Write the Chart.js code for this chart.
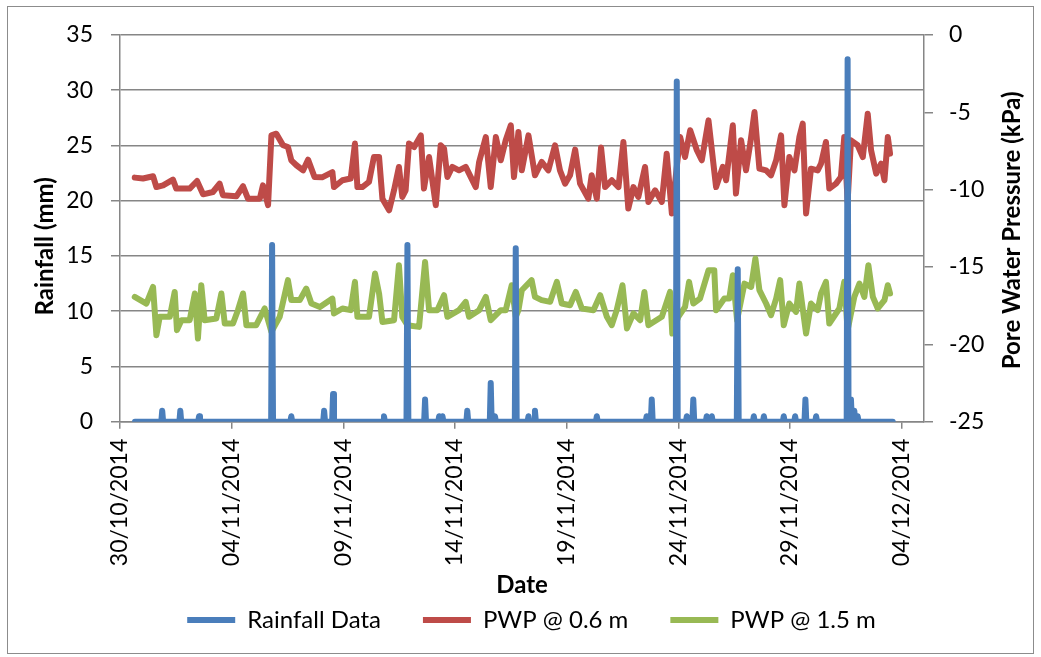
<!DOCTYPE html>
<html>
<head>
<meta charset="utf-8">
<script src="https://cdn.jsdelivr.net/npm/chart.js@4.4.1/dist/chart.umd.min.js"></script>
<style>
  html, body { margin: 0; padding: 0; background: #fff; }
  #wrap { position: relative; width: 1041px; height: 657px; }
  #frame { position: absolute; left: 7px; top: 6px; width: 1025px; height: 646px; border: 1px solid #8c8c8c; pointer-events: none; }
</style>
</head>
<body>
<div id="wrap">
  <canvas id="chart" width="1041" height="657"></canvas>
  <div id="frame"></div>
</div>
<script>
// x values are days after 30/10/2014 00:00
const xTickDays = [0, 5, 10, 15, 20, 25, 30, 35];
const xTickLabels = ["30/10/2014", "04/11/2014", "09/11/2014", "14/11/2014", "19/11/2014", "24/11/2014", "29/11/2014", "04/12/2014"];

// rain gauge: hours with rain (all other hours read 0)
const rainStart = 0.67;
const rainEnd = 34.6;
const rainDays = [1.89, 2.70, 3.54, 6.81, 7.67, 9.14, 9.54, 11.82, 12.87, 13.66, 14.29, 14.44, 15.55, 16.60, 16.79, 17.72, 18.29, 18.58,
  21.35, 23.58, 23.81, 24.93, 25.38, 25.67, 26.27, 26.50, 27.66, 28.38, 28.83, 29.72, 30.23, 30.69, 31.17, 32.58, 32.73, 32.88, 33.03];
const rainMm = [1.0, 1.0, 0.5, 16.0, 0.5, 1.0, 2.5, 0.5, 16.0, 2.0, 0.5, 0.5, 1.0, 3.5, 0.5, 15.7, 0.5, 1.0,
  0.5, 0.5, 2.0, 30.8, 0.5, 2.0, 0.5, 0.5, 13.8, 0.5, 0.5, 0.5, 0.5, 2.0, 0.5, 32.8, 2.0, 1.0, 0.5];

const pwp06Days = [0.66, 1.03, 1.48, 1.63, 1.93, 2.37, 2.52, 3.12, 3.45, 3.72, 4.16, 4.46, 4.61, 5.21, 5.51, 5.73, 6.26, 6.40, 6.63, 6.78,
  7.00, 7.30, 7.52, 7.67, 7.90, 8.20, 8.42, 8.71, 9.05, 9.51, 9.58, 9.96, 10.33, 10.52, 10.63, 10.85, 11.15, 11.37, 11.60, 11.75,
  12.05, 12.27, 12.49, 12.64, 12.79, 12.94, 13.17, 13.47, 13.61, 13.84, 14.14, 14.36, 14.51, 14.66, 14.88, 15.18, 15.48, 15.93, 16.08, 16.38,
  16.60, 16.83, 17.05, 17.27, 17.50, 17.64, 17.84, 17.99, 18.29, 18.58, 18.88, 19.18, 19.48, 19.70, 19.93, 20.15, 20.38, 20.60, 20.97, 21.12,
  21.35, 21.54, 21.72, 22.02, 22.32, 22.54, 22.76, 22.99, 23.21, 23.51, 23.66, 23.96, 24.26, 24.48, 24.71, 24.93, 25.08, 25.30, 25.53, 25.83,
  26.05, 26.35, 26.69, 26.99, 27.14, 27.44, 27.58, 27.81, 28.03, 28.23, 28.41, 28.63, 28.93, 29.15, 29.38, 29.60, 29.75, 29.97, 30.20, 30.42,
  30.57, 30.72, 30.94, 31.24, 31.39, 31.61, 31.76, 32.06, 32.28, 32.43, 32.58, 32.73, 33.03, 33.26, 33.48, 33.63, 33.86, 34.08, 34.23, 34.38, 34.48];
const pwp06Kpa = [-9.22, -9.28, -9.13, -9.83, -9.72, -9.35, -9.93, -9.93, -9.44, -10.30, -10.15, -9.61, -10.36, -10.43, -9.78, -10.58, -10.58, -9.72, -11.00, -6.49,
  -6.38, -7.13, -7.24, -8.10, -8.42, -8.75, -8.06, -9.18, -9.20, -8.86, -9.83, -9.39, -9.28, -7.02, -9.83, -9.83, -9.50, -7.89, -7.89, -10.58,
  -11.33, -10.04, -8.53, -10.47, -10.04, -7.02, -7.24, -6.49, -9.93, -7.89, -11.00, -7.13, -7.35, -9.18, -8.53, -8.75, -8.53, -9.83, -8.21, -6.60,
  -9.83, -6.60, -8.10, -6.81, -5.84, -9.18, -6.27, -8.75, -6.49, -9.07, -8.21, -8.75, -7.13, -8.75, -9.61, -9.07, -7.41, -9.61, -10.58, -9.07,
  -10.58, -7.28, -9.83, -9.39, -9.83, -6.92, -11.22, -9.83, -10.47, -8.53, -10.79, -10.04, -10.79, -7.67, -11.54, -8.53, -6.60, -7.89, -6.16, -7.45,
  -8.10, -5.52, -9.83, -8.53, -9.39, -5.84, -10.25, -6.81, -8.75, -6.92, -4.98, -8.64, -8.75, -9.07, -8.10, -6.49, -11.00, -7.89, -8.75, -6.60,
  -5.73, -11.54, -8.64, -8.75, -8.32, -6.92, -9.93, -9.61, -9.18, -6.60, -10.79, -6.81, -7.13, -7.89, -5.09, -7.45, -8.96, -8.32, -9.39, -6.60, -7.67];

const pwp15Days = [0.66, 1.18, 1.48, 1.63, 1.78, 2.23, 2.45, 2.55, 2.75, 3.12, 3.35, 3.49, 3.64, 3.79, 4.31, 4.54, 4.69, 5.06, 5.28, 5.51,
  5.66, 6.10, 6.48, 6.78, 7.15, 7.52, 7.67, 8.05, 8.34, 8.57, 8.95, 9.51, 9.58, 9.96, 10.33, 10.52, 10.63, 11.15, 11.42, 11.60,
  11.75, 12.27, 12.49, 12.64, 12.87, 13.39, 13.66, 13.84, 14.21, 14.51, 14.66, 15.18, 15.48, 15.63, 16.08, 16.38, 16.60, 17.05, 17.27, 17.54,
  17.72, 17.84, 17.99, 18.43, 18.58, 18.88, 19.26, 19.56, 19.78, 20.15, 20.41, 20.68, 21.20, 21.50, 21.80, 22.02, 22.24, 22.50, 22.70, 22.99,
  23.29, 23.48, 23.66, 24.26, 24.63, 24.73, 25.00, 25.30, 25.48, 25.67, 25.97, 26.35, 26.61, 26.69, 27.06, 27.28, 27.44, 27.63, 27.96, 28.26,
  28.45, 28.63, 28.93, 29.15, 29.38, 29.56, 29.72, 29.97, 30.27, 30.42, 30.72, 30.94, 31.24, 31.39, 31.61, 31.76, 32.21, 32.43, 32.58, 32.88,
  33.11, 33.33, 33.51, 33.71, 33.93, 34.23, 34.38, 34.48];
const pwp15Kpa = [-16.93, -17.36, -16.29, -19.41, -18.22, -18.22, -16.61, -19.08, -18.44, -18.44, -16.71, -19.62, -16.18, -18.44, -18.33, -16.71, -18.65, -18.65, -17.79, -16.71,
  -18.76, -18.76, -17.68, -19.19, -18.22, -15.85, -17.14, -17.14, -16.39, -17.36, -17.58, -17.04, -18.00, -17.68, -17.79, -15.96, -18.22, -18.22, -15.42, -16.71,
  -18.55, -18.44, -14.88, -18.22, -18.76, -18.87, -14.67, -17.79, -17.79, -16.82, -18.22, -17.79, -17.25, -18.22, -17.79, -16.93, -18.44, -17.79, -17.79, -16.18,
  -18.22, -17.79, -16.50, -15.85, -16.93, -17.14, -17.25, -15.96, -17.36, -17.47, -16.61, -17.68, -17.79, -16.82, -18.22, -18.76, -17.79, -16.18, -18.97, -18.00,
  -18.44, -16.61, -18.76, -18.22, -16.61, -19.30, -18.22, -17.58, -15.96, -17.36, -17.04, -15.21, -15.21, -17.79, -17.04, -17.04, -15.53, -18.44, -16.07, -16.29,
  -14.45, -16.50, -17.36, -18.11, -17.04, -15.85, -18.76, -17.36, -17.90, -16.07, -19.30, -17.36, -17.79, -16.71, -15.96, -18.65, -17.68, -15.96, -19.08, -16.93,
  -16.07, -16.93, -14.88, -16.93, -17.68, -17.14, -16.18, -16.71];

const rainAxisTitle = "Rainfall (mm)";
const pwpAxisTitle = "Pore Water Pressure (kPa)";
const axisGrey = "#868686";

const HOUR = 1 / 24;
let rainPoints = [{ x: rainStart, y: 0 }];
for (let i = 0; i < rainDays.length; i++) {
  rainPoints.push({ x: rainDays[i] - HOUR, y: 0 });
  rainPoints.push({ x: rainDays[i], y: rainMm[i] });
  rainPoints.push({ x: rainDays[i] + HOUR, y: 0 });
}
rainPoints.push({ x: rainEnd, y: 0 });

function toPoints(days, vals) {
  return days.map((d, i) => ({ x: d, y: vals[i] }));
}

Chart.defaults.font.family = "Lato";
Chart.defaults.font.size = 23;
Chart.defaults.color = "#000";

// legend items need wide horizontal spacing, so the legend box is stretched upward after layout
const legendShift = {
  id: "legendShift",
  afterLayout(chart) {
    chart.legend.top -= 51;
    chart.legend.left += 11;
    chart.legend.right += 11;
  },
};

// both value-axis titles read bottom-to-top, as in the original
const axisTitles = {
  id: "axisTitles",
  afterDraw(chart) {
    const c = chart.ctx;
    const area = chart.chartArea;
    const mid = (area.top + area.bottom) / 2;
    c.save();
    c.font = "bold 24px Lato";
    c.fillStyle = "#000";
    c.textAlign = "center";
    c.textBaseline = "middle";
    c.translate(chart.scales.y.left + 35, mid + 18);
    c.rotate(-Math.PI / 2);
    c.fillText(rainAxisTitle, 0, 0);
    c.restore();
    c.save();
    c.font = "bold 24px Lato";
    c.fillStyle = "#000";
    c.textAlign = "center";
    c.textBaseline = "middle";
    c.translate(chart.scales.y1.right - 19, mid + 2);
    c.rotate(-Math.PI / 2);
    c.fillText(pwpAxisTitle, 0, 0);
    c.restore();
  },
};

const ctx = document.getElementById("chart");

new Chart(ctx, {
  type: "line",
  data: {
    datasets: [
      {
        label: "Rainfall Data",
        data: rainPoints,
        yAxisID: "y",
        borderColor: "#4A7EBB",
        backgroundColor: "#4A7EBB",
        borderWidth: 6,
      },
      {
        label: "PWP @ 0.6 m",
        data: toPoints(pwp06Days, pwp06Kpa),
        yAxisID: "y1",
        borderColor: "#BE4B48",
        backgroundColor: "#BE4B48",
        borderWidth: 6,
      },
      {
        label: "PWP @ 1.5 m",
        data: toPoints(pwp15Days, pwp15Kpa),
        yAxisID: "y1",
        borderColor: "#98B954",
        backgroundColor: "#98B954",
        borderWidth: 6,
      },
    ],
  },
  options: {
    responsive: false,
    animation: false,
    parsing: false,
    layout: { padding: { top: 35, left: 10, right: 10, bottom: 0 } },
    elements: {
      point: { radius: 0, hoverRadius: 0, pointStyle: "line" },
      line: { tension: 0, borderJoinStyle: "round", borderCapStyle: "round" },
    },
    scales: {
      x: {
        type: "linear",
        position: "bottom",
        min: 0,
        max: 36,
        afterBuildTicks: (axis) => {
          axis.ticks = xTickDays.map((v) => ({ value: v }));
        },
        afterFit: (scale) => {
          scale.height = 195.3;
        },
        ticks: {
          autoSkip: false,
          minRotation: 90,
          maxRotation: 90,
          padding: 10,
          callback: (value) => xTickLabels[xTickDays.indexOf(value)],
        },
        grid: { drawOnChartArea: false, color: axisGrey, tickLength: 7, lineWidth: 1.5 },
        border: { color: axisGrey, width: 1.5 },
        title: {
          display: true,
          text: "Date",
          font: { weight: "bold", size: 24 },
          padding: { top: 0, bottom: 17 },
        },
      },
      y: {
        position: "left",
        min: 0,
        max: 35,
        afterFit: (scale) => {
          scale.width = 110;
        },
        ticks: { stepSize: 5, padding: 18 },
        grid: { color: axisGrey, tickLength: 9, lineWidth: 1.5 },
        border: { color: axisGrey, width: 1.5 },
      },
      y1: {
        position: "right",
        min: -25,
        max: 0,
        afterFit: (scale) => {
          scale.width = 107;
        },
        ticks: { stepSize: 5, padding: 16 },
        grid: { drawOnChartArea: false, color: axisGrey, tickLength: 9, lineWidth: 1.5 },
        border: { color: axisGrey, width: 1.5 },
      },
    },
    plugins: {
      legend: {
        position: "bottom",
        maxHeight: 40,
        labels: {
          usePointStyle: true,
          pointStyleWidth: 48,
          padding: 42,
          font: { size: 24 },
        },
      },
      tooltip: { enabled: false },
    },
  },
  plugins: [legendShift, axisTitles],
});
</script>
